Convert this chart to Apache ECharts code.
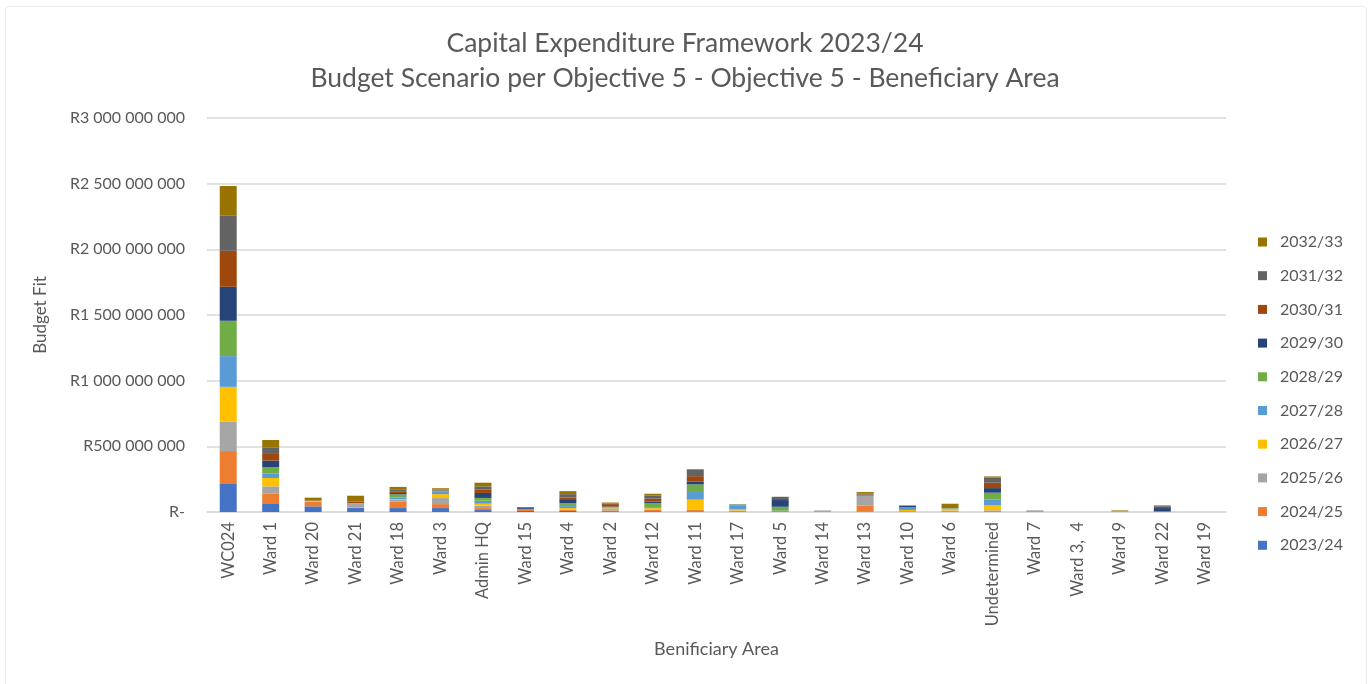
<!DOCTYPE html>
<html>
<head>
<meta charset="utf-8">
<title>Capital Expenditure Framework 2023/24</title>
<script src="https://cdn.jsdelivr.net/npm/echarts@6/dist/echarts.min.js"></script>
<style>
  html, body { margin: 0; padding: 0; background: #ffffff; }
  #chart { width: 1370px; height: 684px; }
  #frame { position: absolute; left: 5px; top: 6px; width: 1360px; height: 690px;
           border: 1px solid #ececec; border-radius: 4px; pointer-events: none; }
</style>
</head>
<body>
<div id="chart"></div>
<div id="frame"></div>
<script>
// Beneficiary areas along the category axis
const areas = ['WC024', 'Ward 1', 'Ward 20', 'Ward 21', 'Ward 18', 'Ward 3', 'Admin HQ', 'Ward 15',
  'Ward 4', 'Ward 2', 'Ward 12', 'Ward 11', 'Ward 17', 'Ward 5', 'Ward 14', 'Ward 13', 'Ward 10',
  'Ward 6', 'Undetermined', 'Ward 7', 'Ward 3,  4', 'Ward 9', 'Ward 22', 'Ward 19'];

// Budget per financial year, in millions of rand, one entry per area
const fy2023 = [213, 61, 43, 30, 30, 30, 15, 8, 8, 6, 6, 5, 3, 2, 0, 2, 3, 3, 4, 0, 0, 0, 0, 0];
const fy2024 = [251, 81, 35, 4, 48, 30, 15, 8, 8, 6, 11, 10, 5, 0, 0, 46, 2, 3, 4, 0, 0, 0, 0, 0];
const fy2025 = [223, 53, 2, 30, 15, 46, 18, 0, 4, 10, 4, 3, 3, 0, 12, 76, 2, 5, 5, 13, 0, 0, 0, 0];
const fy2026 = [266, 64, 2, 1, 4, 30, 15, 0, 10, 6, 8, 76, 8, 0, 0, 0, 8, 13, 40, 0, 0, 5, 0, 0];
const fy2027 = [234, 35, 1, 1, 13, 18, 23, 0, 15, 5, 8, 58, 28, 8, 0, 0, 23, 4, 43, 0, 0, 0, 5, 0];
const fy2028 = [269, 46, 1, 1, 25, 8, 21, 8, 23, 5, 30, 58, 10, 30, 0, 0, 0, 0, 51, 0, 0, 0, 0, 0];
const fy2029 = [259, 51, 1, 1, 10, 3, 38, 8, 30, 4, 13, 23, 2, 51, 0, 2, 8, 0, 35, 0, 0, 0, 25, 0];
const fy2030 = [274, 51, 1, 8, 13, 3, 25, 0, 13, 18, 23, 40, 0, 8, 0, 8, 0, 0, 41, 0, 0, 0, 10, 0];
const fy2031 = [270, 50, 1, 3, 15, 3, 25, 6, 25, 4, 23, 51, 0, 17, 0, 5, 4, 0, 38, 0, 0, 0, 10, 0];
const fy2032 = [223, 56, 22, 45, 18, 10, 28, 0, 23, 8, 13, 3, 0, 0, 0, 13, 0, 35, 10, 0, 0, 7, 0, 0];

const yearNames = ['2023/24', '2024/25', '2025/26', '2026/27', '2027/28',
  '2028/29', '2029/30', '2030/31', '2031/32', '2032/33'];
const yearValues = [fy2023, fy2024, fy2025, fy2026, fy2027, fy2028, fy2029, fy2030, fy2031, fy2032];
const yearColors = ['#4472C4', '#ED7D31', '#A5A5A5', '#FFC000', '#5B9BD5',
  '#70AD47', '#264478', '#9E480E', '#636363', '#997300'];

// Value axis ticks (rand)
const yMin = 0, yMax = 3000000000, yStep = 500000000;
const MILLION = 1000000;

const FONT = 'Lato, "Open Sans", sans-serif';
const GREY = '#595959';

function randLabel(v) {
  if (v === 0) return 'R-';
  return 'R' + String(Math.round(v)).replace(/\B(?=(\d{3})+(?!\d))/g, ' ');
}

const chart = echarts.init(document.getElementById('chart'), null, { renderer: 'canvas' });

chart.setOption({
  animation: false,
  backgroundColor: '#ffffff',
  textStyle: { fontFamily: FONT },
  title: {
    text: 'Capital Expenditure Framework 2023/24\nBudget Scenario per Objective 5 - Objective 5 - Beneficiary Area',
    left: 'center',
    top: 21,
    textStyle: { fontFamily: FONT, fontSize: 26.5, fontWeight: 'normal', color: GREY, lineHeight: 35 }
  },
  legend: {
    orient: 'vertical',
    left: 1253,
    top: 229,
    itemWidth: 9,
    itemHeight: 9,
    itemGap: 17.7,
    icon: 'rect',
    data: yearNames.slice().reverse(),
    textStyle: { fontFamily: FONT, fontSize: 16, color: GREY, lineHeight: 16, padding: [0, 0, 0, 8] }
  },
  grid: { left: 207, right: 144, top: 118, bottom: 172, containLabel: false },
  xAxis: {
    type: 'category',
    data: areas,
    name: 'Benificiary Area',
    nameLocation: 'middle',
    nameGap: 128,
    nameTextStyle: { fontFamily: FONT, fontSize: 18, color: GREY },
    axisLine: { lineStyle: { color: '#d9d9d9', width: 1.5 } },
    axisTick: { show: false },
    axisLabel: { rotate: 90, interval: 0, fontSize: 16.5, color: GREY, fontFamily: FONT, margin: 10 }
  },
  yAxis: {
    type: 'value',
    min: yMin,
    max: yMax,
    interval: yStep,
    name: 'Budget Fit',
    nameLocation: 'middle',
    nameGap: 158,
    nameTextStyle: { fontFamily: FONT, fontSize: 17, color: GREY },
    axisLine: { show: false },
    axisTick: { show: false },
    splitLine: { lineStyle: { color: '#d9d9d9', width: 1.5 } },
    axisLabel: { formatter: randLabel, fontSize: 16, color: GREY, fontFamily: FONT, margin: 22 }
  },
  series: yearNames.map((name, i) => ({
    name: name,
    type: 'bar',
    stack: 'total',
    barWidth: '40%',
    itemStyle: { color: yearColors[i] },
    data: yearValues[i].map(v => v * MILLION)
  }))
});
</script>
</body>
</html>
